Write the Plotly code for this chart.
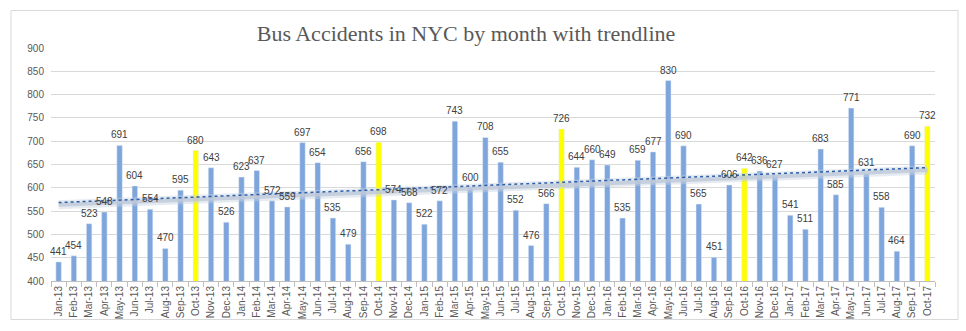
import numpy as np
import plotly.graph_objects as go

months = ["Jan","Feb","Mar","Apr","May","Jun","Jul","Aug","Sep","Oct","Nov","Dec"]
years = ["13","14","15","16","17"]
categories = [f"{m}-{y}" for y in years for m in months][:58]

accidents = [441, 454, 523, 548, 691, 604, 554, 470, 595, 680, 643, 526,
             623, 637, 572, 559, 697, 654, 535, 479, 656, 698, 574, 568,
             522, 572, 743, 600, 708, 655, 552, 476, 566, 726, 644, 660,
             649, 535, 659, 677, 830, 690, 565, 451, 606, 642, 636, 627,
             541, 511, 683, 585, 771, 631, 558, 464, 690, 732]

highlight_month = "Oct"
y_ticks = [400, 450, 500, 550, 600, 650, 700, 750, 800, 850, 900]

BLUE = "#7FA6DC"
YELLOW = "#FFFF00"
colors = [YELLOW if c.startswith(highlight_month) else BLUE for c in categories]

idx = np.arange(len(accidents))
vals = np.array(accidents, dtype=float)
# linear trendline
a, b = np.polyfit(idx, vals, 1)
lin = a * idx + b
# exponential trendline (fit in log space)
ea, eb = np.polyfit(idx, np.log(vals), 1)
expo = np.exp(eb + ea * idx)

fig = go.Figure()
fig.add_trace(go.Bar(
    x=categories, y=accidents, marker_color=colors, width=0.36,
    showlegend=False,
))
fig.add_trace(go.Scatter(
    x=categories, y=expo, mode="lines",
    line=dict(color="rgba(200,210,224,0.45)", width=9), showlegend=False, hoverinfo="skip",
))
fig.add_trace(go.Scatter(
    x=categories, y=expo, mode="lines",
    line=dict(color="rgba(190,200,216,0.8)", width=4), showlegend=False, hoverinfo="skip",
))
fig.add_trace(go.Scatter(
    x=categories, y=lin, mode="lines",
    line=dict(color="#2F5FA8", width=1.5, dash="dot"), showlegend=False, hoverinfo="skip",
))

annotations = [
    dict(x=c, y=v, xref="x", yref="y", text=str(v), showarrow=False,
         yanchor="bottom", yshift=3,
         font=dict(family="Liberation Sans, Arial", size=10, color="#404040"))
    for c, v in zip(categories, accidents)
]

L, R, T, B = 51, 31, 48, 47
W, H = 966, 331
pw, ph = W - L - R, H - T - B

fig.update_layout(
    width=W, height=H,
    margin=dict(l=L, r=R, t=T, b=B),
    paper_bgcolor="white", plot_bgcolor="white",
    title=dict(text="Bus Accidents in NYC by month with trendline",
               x=(466 - L) / pw, xref="paper", xanchor="center",
               y=1 - 33 / H, yanchor="middle",
               font=dict(family="Liberation Serif, DejaVu Serif, serif", size=22, color="#595959")),
    bargap=0.6,
    annotations=annotations,
    xaxis=dict(
        type="category", tickangle=-90, showgrid=False,
        showline=True, linecolor="#BFBFBF", linewidth=1,
        ticks="outside", tickson="boundaries", ticklen=5, tickcolor="#BFBFBF",
        tickfont=dict(family="Liberation Sans, Arial", size=10, color="#595959"),
        range=[-0.5, len(categories) - 0.5],
    ),
    yaxis=dict(
        range=[400, 900], tickvals=y_ticks, showgrid=True, gridcolor="#D9D9D9",
        gridwidth=1, zeroline=False, showline=False, ticks="",
        ticklabelstandoff=6,
        tickfont=dict(family="Liberation Sans, Arial", size=10, color="#595959"),
    ),
    shapes=[dict(
        type="rect", xref="paper", yref="paper",
        x0=(11 - L) / pw, x1=(958 - L) / pw,
        y0=-(323 - (T + ph)) / ph, y1=(T + ph - 10) / ph,
        line=dict(color="#D9D9D9", width=1), fillcolor="rgba(0,0,0,0)", layer="below",
    )],
)

fig.write_html("out.html")
